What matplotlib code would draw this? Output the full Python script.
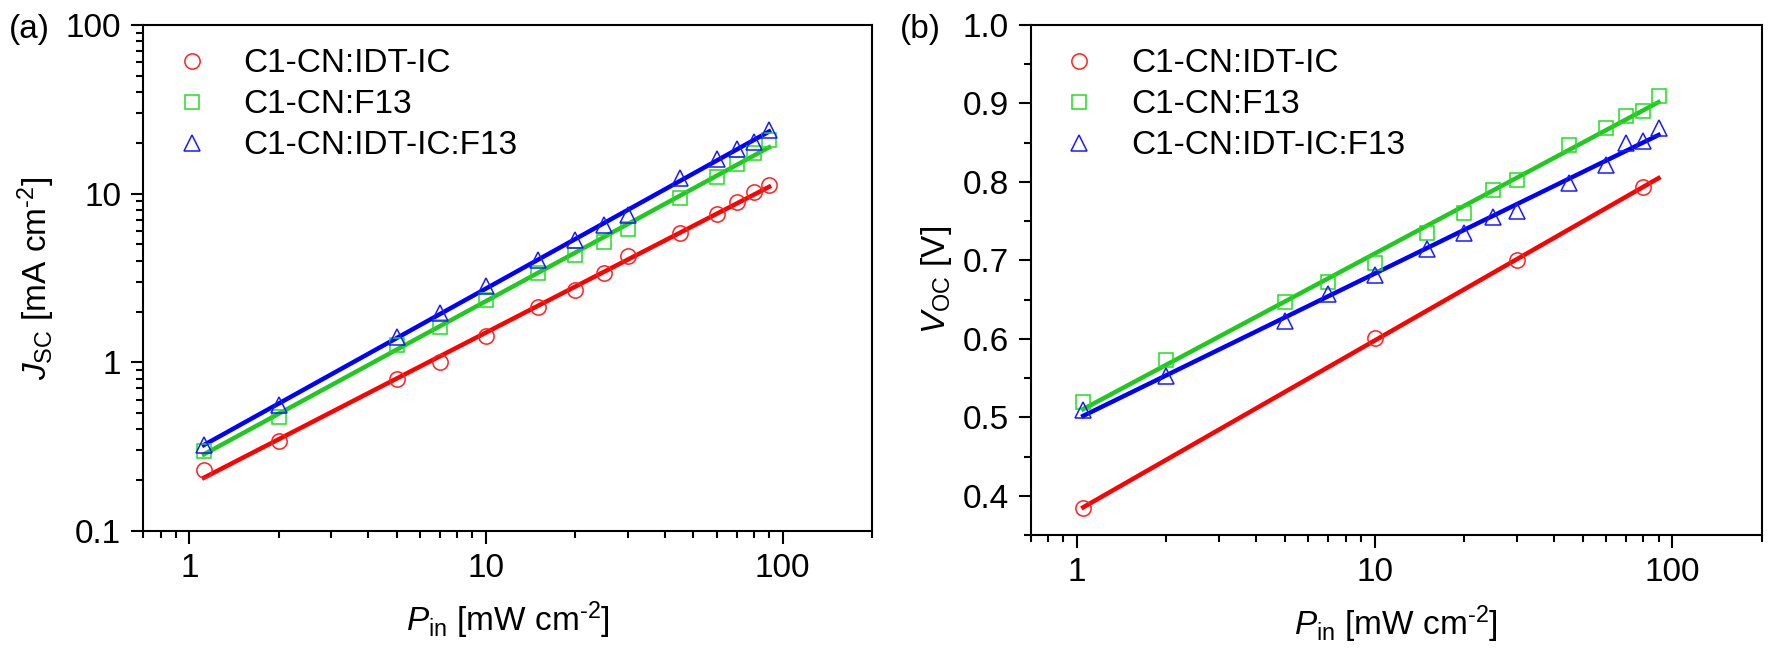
import numpy as np
import matplotlib
matplotlib.use('Agg')
from matplotlib import pyplot as plt
from matplotlib.ticker import FixedLocator, NullFormatter, FuncFormatter, MultipleLocator

plt.rcParams['font.family'] = ['Liberation Sans', 'DejaVu Sans']
plt.rcParams['mathtext.fontset'] = 'custom'
plt.rcParams['mathtext.rm'] = 'Liberation Sans'
plt.rcParams['mathtext.it'] = 'Liberation Sans:italic'

# (a) Jsc vs light intensity
P_a = [1.12, 2, 5, 7, 10, 15, 20, 25, 30, 45, 60, 70, 80, 90]
jsc_idt = [0.229, 0.342, 0.80, 1.00, 1.44, 2.14, 2.69, 3.37, 4.27, 5.87, 7.55, 8.88, 10.2, 11.3]
jsc_f13 = [0.299, 0.475, 1.26, 1.62, 2.33, 3.40, 4.34, 5.17, 6.17, 9.48, 12.6, 14.9, 17.4, 20.7]
jsc_tern = [0.322, 0.562, 1.41, 1.96, 2.85, 4.06, 5.31, 6.56, 7.44, 12.3, 16.1, 18.3, 20.2, 23.9]

# (b) Voc vs light intensity
P_b_idt = [1.05, 10, 30, 80]
P_b = [1.05, 2, 5, 7, 10, 15, 20, 25, 30, 45, 60, 70, 80, 90]
voc_idt = [0.384, 0.601, 0.700, 0.793]
voc_f13 = [0.520, 0.573, 0.647, 0.672, 0.697, 0.735, 0.761, 0.790, 0.802, 0.847, 0.869, 0.884, 0.891, 0.910]
voc_tern = [0.509, 0.553, 0.623, 0.657, 0.682, 0.715, 0.735, 0.755, 0.763, 0.799, 0.822, 0.850, 0.852, 0.869]

labels = ['C1-CN:IDT-IC', 'C1-CN:F13', 'C1-CN:IDT-IC:F13']
markers = ['o', 's', '^']
msizes = [11, 10, 12]
mcolors = ['#ff2020', '#22dd22', '#1a1aff']
lcolors = ['#ff0000', '#20c820', '#0000ff']

FS = 24
UNIT = r' [mW cm$^{\text{-2}}$]'


def style_axis(ax):
    for s in ax.spines.values():
        s.set_linewidth(1.5)
    ax.tick_params(which='major', direction='out', length=9, width=1.5, labelsize=FS, pad=7)
    ax.tick_params(which='minor', direction='out', length=5, width=1.5)
    ax.tick_params(top=False, right=False, which='both')


def logx(ax):
    ax.set_xscale('log')
    ax.set_xlim(0.7, 200)
    ax.xaxis.set_major_locator(FixedLocator([1, 10, 100]))
    ax.xaxis.set_minor_locator(FixedLocator([0.7, 0.8, 0.9] + list(range(2, 10)) +
                                            list(range(20, 100, 10)) + [200]))
    ax.xaxis.set_major_formatter(FuncFormatter(lambda v, p: '%g' % v))
    ax.xaxis.set_minor_formatter(NullFormatter())
    ax.set_xlabel(r'$\mathit{P}_{\mathrm{in}}$' + UNIT, fontsize=FS, labelpad=11)


fig = plt.figure(figsize=(17.72, 6.6), dpi=100)
ax1 = fig.add_axes([0.0809, 0.1955, 0.4112, 0.7667])
ax2 = fig.add_axes([0.5817, 0.1894, 0.4125, 0.7727])

# panel a
xs_a = [P_a, P_a, P_a]
ys_a = [jsc_idt, jsc_f13, jsc_tern]
for x, y, lab, m, ms, mc, lc in zip(xs_a, ys_a, labels, markers, msizes, mcolors, lcolors):
    x = np.array(x)
    y = np.array(y)
    ax1.plot(x, y, m, ms=ms, mfc='none', mec=mc, mew=1.1, label=lab, zorder=3)
    b, a = np.polyfit(np.log10(x), np.log10(y), 1)
    xf = np.array([min(P_a), max(P_a)])
    ax1.plot(xf, 10 ** (a + b * np.log10(xf)), '-', color=lc, lw=3.2, zorder=2)

ax1.set_yscale('log')
ax1.set_ylim(0.1, 100)
ax1.yaxis.set_major_locator(FixedLocator([0.1, 1, 10, 100]))
ax1.yaxis.set_minor_locator(FixedLocator([k * 10.0 ** e for e in (-1, 0, 1) for k in range(2, 10)]))
ax1.yaxis.set_major_formatter(FuncFormatter(lambda v, p: '%g' % v))
ax1.yaxis.set_minor_formatter(NullFormatter())
logx(ax1)
ax1.set_ylabel(r'$\mathit{J}_{\mathrm{SC}}$ [mA cm$^{\text{-2}}$]', fontsize=FS, labelpad=6)
style_axis(ax1)
ax1.legend(loc='upper left', fontsize=FS, frameon=False, handletextpad=0.8,
           labelspacing=0.3, borderaxespad=0.3, handlelength=1.5,
           bbox_to_anchor=(0.0, 1.0))
fig.text(0.005, 0.955, '(a)', fontsize=FS, va='center', ha='left')

# panel b
xs_b = [P_b_idt, P_b, P_b]
ys_b = [voc_idt, voc_f13, voc_tern]
for x, y, lab, m, ms, mc, lc in zip(xs_b, ys_b, labels, markers, msizes, mcolors, lcolors):
    x = np.array(x)
    y = np.array(y)
    ax2.plot(x, y, m, ms=ms, mfc='none', mec=mc, mew=1.1, label=lab, zorder=3)
    b, a = np.polyfit(np.log10(x), y, 1)
    xf = np.array([min(P_b), max(P_b)])
    ax2.plot(xf, a + b * np.log10(xf), '-', color=lc, lw=3.2, zorder=2)

ax2.set_ylim(0.35, 1.0)
ax2.yaxis.set_major_locator(MultipleLocator(0.1))
ax2.yaxis.set_minor_locator(MultipleLocator(0.05))
ax2.yaxis.set_major_formatter(FuncFormatter(lambda v, p: '%.1f' % v))
logx(ax2)
ax2.set_ylabel(r'$\mathit{V}_{\mathrm{OC}}$ [V]', fontsize=FS, labelpad=6)
style_axis(ax2)
ax2.legend(loc='upper left', fontsize=FS, frameon=False, handletextpad=0.8,
           labelspacing=0.3, borderaxespad=0.3, handlelength=1.5,
           bbox_to_anchor=(0.0, 1.0))
fig.text(0.508, 0.955, '(b)', fontsize=FS, va='center', ha='left')

fig.savefig('out.png', dpi=100)
